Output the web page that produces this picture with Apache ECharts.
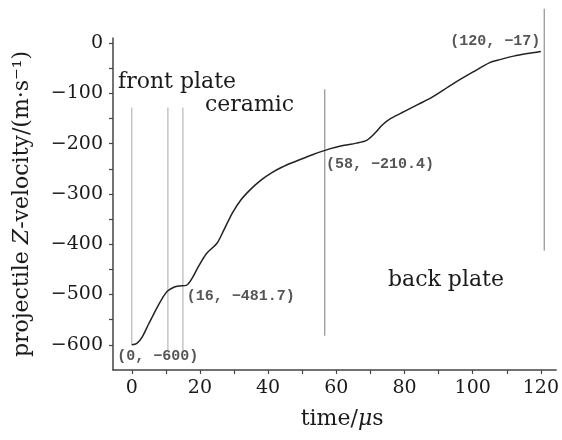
<!DOCTYPE html>
<html>
<head>
<meta charset="utf-8">
<script src="https://cdn.jsdelivr.net/npm/echarts@6/dist/echarts.min.js"></script>
<style>
  html, body { margin: 0; padding: 0; background: #fff; }
  #chart { width: 562px; height: 440px; }
</style>
</head>
<body>
<div id="chart"></div>
<script>
// Projectile Z-velocity history (time in µs, velocity in m/s)
const timeUs = [0, 1.5, 3, 5, 7.5, 9, 10.5, 12.5, 14, 16, 17.5, 19.5, 22, 25, 27, 29.5, 32, 35, 38, 41, 44, 47, 50, 53, 58, 61, 66, 69, 71.5, 73.5, 76, 80, 84, 88, 94, 100, 105, 108, 112, 116, 120];
const velocity = [-600, -597, -585, -558, -525, -507, -493, -485, -483, -481.7, -470, -445, -418, -398, -372, -338, -312, -290, -272, -258, -247, -238, -230, -222, -210.4, -205, -199, -193, -178, -163, -150, -136, -122, -108, -82, -58, -39, -33, -26, -21, -17];

// Layer boundaries: time, upper and lower end of each marker line
const boundaryX = [0, 10.6, 15, 56.6, 121];
const boundaryTop = [-128, -128, -128, -92, 68];
const boundaryBottom = [-600, -610, -610, -582, -413];
const boundaryColor = ['#bdbdbd', '#bdbdbd', '#bdbdbd', '#9a9a9a', '#9a9a9a'];

// Annotated points on the curve
const calloutX = [0, 16, 58, 120];
const calloutY = [-600, -481.7, -210.4, -17];

// Layer names
const regionNames = ['front plate', 'ceramic', 'back plate'];

// Axis ticks and labels
const xTickValues = [0, 10, 20, 30, 40, 50, 60, 70, 80, 90, 100, 110, 120];
const xLabelValues = [0, 20, 40, 60, 80, 100, 120];
const yTickValues = [-600, -550, -500, -450, -400, -350, -300, -250, -200, -150, -100, -50, 0];
const yLabelValues = [-600, -500, -400, -300, -200, -100, 0];

const SERIF = '"DejaVu Serif", serif';
const MONO = '"Liberation Mono", monospace';
const minus = v => String(v).replace('-', '\u2212');

const chart = echarts.init(document.getElementById('chart'), null, { renderer: 'canvas' });

const calloutLayout = [
  { position: [-14, 12], align: 'left' },
  { position: [1, 11], align: 'left' },
  { position: [-3, 15.5], align: 'left' },
  { position: [0, -10], align: 'right' }
];

// one vertical segment per layer boundary
const boundarySeries = boundaryX.map((x, i) => ({
  type: 'line',
  data: [[x, boundaryTop[i]], [x, boundaryBottom[i]]],
  showSymbol: false,
  symbol: 'none',
  clip: false,
  silent: true,
  lineStyle: { color: boundaryColor[i], width: 1.3 },
  z: 1
}));

chart.setOption({
  animation: false,
  backgroundColor: '#fff',
  grid: { left: 113, right: 4, top: 38, bottom: 70 },
  xAxis: {
    type: 'value',
    min: -5.5,
    max: 124.5,
    splitLine: { show: false },
    axisLine: { show: true, onZero: false, lineStyle: { color: '#444', width: 1.5 } },
    axisTick: { show: true, length: 4, customValues: xTickValues, lineStyle: { color: '#444', width: 1.2 } },
    axisLabel: { customValues: xLabelValues, margin: 9, color: '#1a1a1a', fontFamily: SERIF, fontSize: 19, formatter: minus },
    name: 'time/{i|\u03bc}s',
    nameLocation: 'middle',
    nameGap: 38,
    nameTextStyle: {
      color: '#1a1a1a', fontFamily: SERIF, fontSize: 22, padding: [0, 0, 0, 15],
      rich: { i: { fontStyle: 'italic', fontFamily: SERIF, fontSize: 22, color: '#1a1a1a' } }
    }
  },
  yAxis: {
    type: 'value',
    min: -650,
    max: 10,
    splitLine: { show: false },
    axisLine: { show: true, onZero: false, lineStyle: { color: '#444', width: 1.5 } },
    axisTick: { show: true, length: 4, customValues: yTickValues, lineStyle: { color: '#444', width: 1.2 } },
    axisLabel: { customValues: yLabelValues, margin: 10, color: '#1a1a1a', fontFamily: SERIF, fontSize: 19, formatter: minus },
    name: 'projectile {i|Z}-velocity/(m\u00b7s\u207b\u00b9)',
    nameLocation: 'middle',
    nameGap: 80,
    nameTextStyle: {
      color: '#1a1a1a', fontFamily: SERIF, fontSize: 22,
      rich: { i: { fontStyle: 'italic', fontFamily: SERIF, fontSize: 22, color: '#1a1a1a' } }
    }
  },
  series: boundarySeries.concat([
    {
      type: 'line',
      data: timeUs.map((t, i) => [t, velocity[i]]),
      showSymbol: false,
      symbol: 'none',
      smooth: 0.3,
      lineStyle: { color: '#222', width: 1.5 },
      z: 3
    },
    {
      type: 'scatter',
      symbolSize: 1,
      itemStyle: { color: 'rgba(0,0,0,0)' },
      silent: true,
      data: calloutX.map((x, i) => ({
        value: [x, calloutY[i]],
        label: {
          show: true,
          position: calloutLayout[i].position,
          align: calloutLayout[i].align,
          verticalAlign: 'middle',
          formatter: '(' + x + ', ' + minus(calloutY[i]) + ')',
          fontFamily: MONO,
          fontWeight: 'bold',
          fontSize: 15,
          color: '#2a2a2a'
        }
      })),
      z: 4
    }
  ]),
  graphic: [
    { type: 'text', x: 118, y: 82.5, style: { text: regionNames[0], font: '22px ' + SERIF, fill: '#1a1a1a', textVerticalAlign: 'middle' } },
    { type: 'text', x: 205, y: 105.5, style: { text: regionNames[1], font: '22px ' + SERIF, fill: '#1a1a1a', textVerticalAlign: 'middle' } },
    { type: 'text', x: 388, y: 280.5, style: { text: regionNames[2], font: '22px ' + SERIF, fill: '#1a1a1a', textVerticalAlign: 'middle' } }
  ]
});
</script>
</body>
</html>
